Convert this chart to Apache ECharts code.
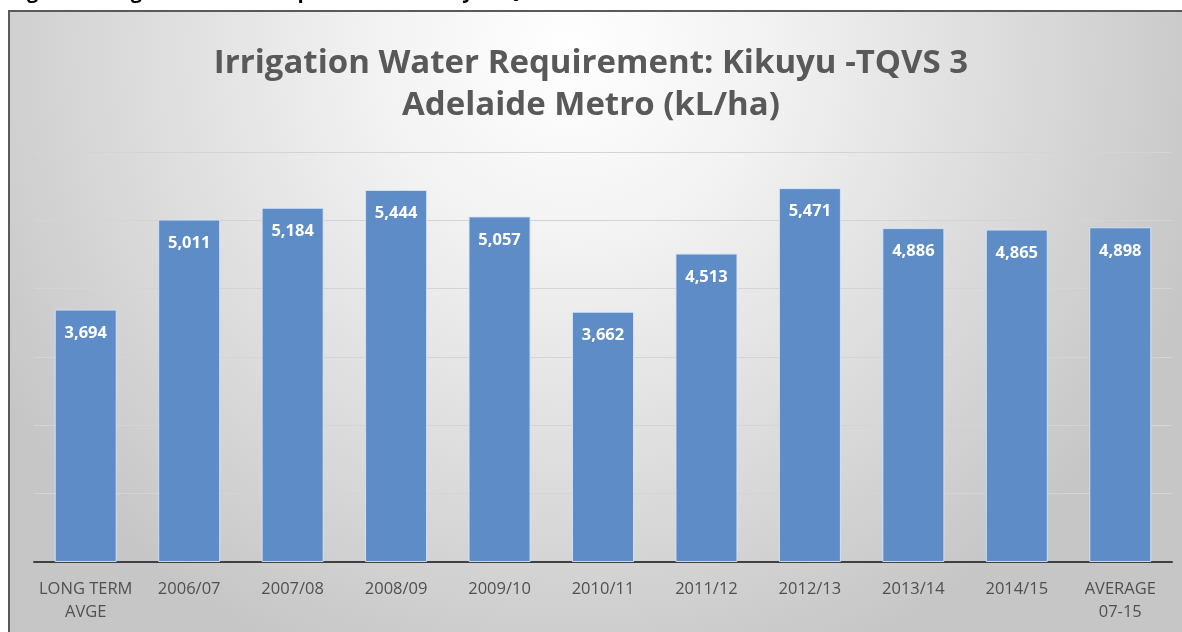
<!DOCTYPE html>
<html>
<head>
<meta charset="utf-8">
<script src="https://cdn.jsdelivr.net/npm/echarts@6/dist/echarts.min.js"></script>
<style>
html,body{margin:0;padding:0;background:#ffffff;}
#chart{width:1182px;height:632px;}
</style>
</head>
<body>
<div id="chart"></div>
<script>
const categories = ['LONG TERM\nAVGE','2006/07','2007/08','2008/09','2009/10','2010/11','2011/12','2012/13','2013/14','2014/15','AVERAGE\n07-15'];
const values = [3694, 5011, 5184, 5444, 5057, 3662, 4513, 5471, 4886, 4865, 4898];
const titleLines = ['Irrigation Water Requirement: Kikuyu -TQVS 3', 'Adelaide Metro (kL/ha)'];
const captionText = 'Figure 6: Irrigation Water Requirement \u2013 Kikuyu TQVS 3 Adelaide Metro';

const chart = echarts.init(document.getElementById('chart'), null, {renderer:'canvas'});
chart.setOption({
  animation:false,
  graphic:[
    {type:'rect', z:-10, silent:true,
     shape:{x:9, y:11, width:1220, height:660},
     style:{
       fill:{type:'radial', x:0.46, y:0.06, r:1.0,
             colorStops:[{offset:0,color:'#ffffff'},{offset:0.3,color:'#f2f2f2'},{offset:0.75,color:'#d6d6d6'},{offset:1,color:'#c6c6c6'}]},
       stroke:'#5a5a5a', lineWidth:2}},
    {type:'text', z:-5, silent:true, left:10, top:-18,
     style:{text:captionText, font:'bold 20px "Open Sans", sans-serif', fill:'#000000'}}
  ],
  title:{
    text:titleLines.join('\n'),
    left:'center', top:38,
    textStyle:{fontFamily:'"Open Sans", sans-serif', fontWeight:'bold', fontSize:33, color:'#595959', lineHeight:42}
  },
  grid:{left:34, right:10, top:152, bottom:70, containLabel:false},
  xAxis:{
    type:'category', data:categories,
    axisLine:{lineStyle:{color:'#404040', width:2}},
    axisTick:{show:false},
    axisLabel:{color:'#505050', fontFamily:'"Open Sans", sans-serif', fontSize:16.5, margin:16, lineHeight:23, interval:0}
  },
  yAxis:{
    type:'value', min:0, max:6000, interval:1000,
    axisLabel:{show:false}, axisLine:{show:false}, axisTick:{show:false},
    splitLine:{lineStyle:{color:'#d4d4d4', width:1}}
  },
  series:[{
    type:'bar', data:values, barWidth:62,
    itemStyle:{color:'#5d8cc7', borderColor:'rgba(215,229,246,0.9)', borderWidth:1},
    label:{show:true, position:'insideTop', distance:15, color:'#ffffff',
      fontFamily:'"Open Sans", sans-serif', fontWeight:'bold', fontSize:16.5,
      formatter:p => p.value.toLocaleString('en-US')}
  }]
});
</script>
</body>
</html>
